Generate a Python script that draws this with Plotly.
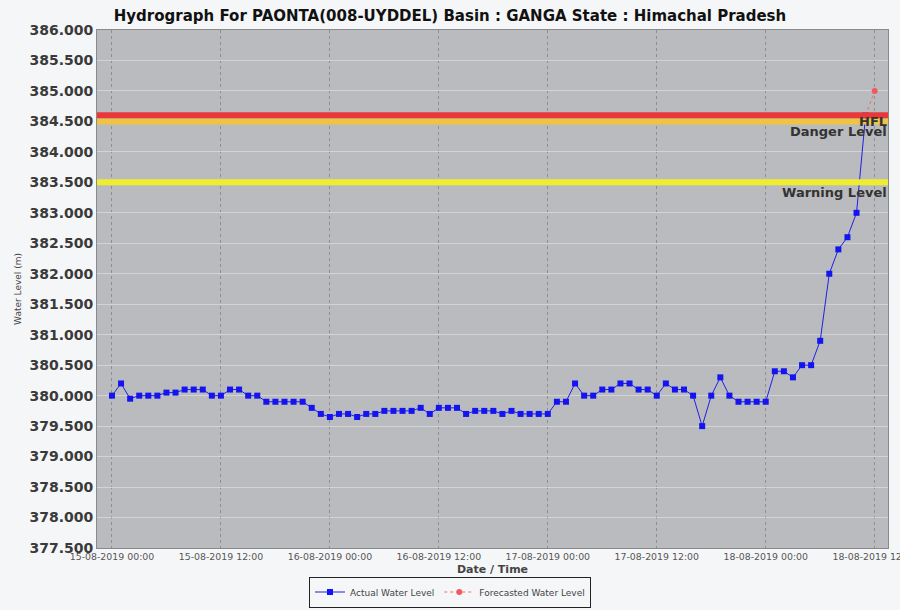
import plotly.graph_objects as go
import pandas as pd

# ---------------- data ----------------
start_time = "2019-08-15 00:00"
actual_level = [
    380.0, 380.2, 379.95, 380.0, 380.0, 380.0, 380.05, 380.05, 380.1, 380.1,
    380.1, 380.0, 380.0, 380.1, 380.1, 380.0, 380.0, 379.9, 379.9, 379.9,
    379.9, 379.9, 379.8, 379.7, 379.65, 379.7, 379.7, 379.65, 379.7, 379.7,
    379.75, 379.75, 379.75, 379.75, 379.8, 379.7, 379.8, 379.8, 379.8, 379.7,
    379.75, 379.75, 379.75, 379.7, 379.75, 379.7, 379.7, 379.7, 379.7, 379.9,
    379.9, 380.2, 380.0, 380.0, 380.1, 380.1, 380.2, 380.2, 380.1, 380.1,
    380.0, 380.2, 380.1, 380.1, 380.0, 379.5, 380.0, 380.3, 380.0, 379.9,
    379.9, 379.9, 379.9, 380.4, 380.4, 380.3, 380.5, 380.5, 380.9, 382.0,
    382.4, 382.6, 383.0, 384.6,
]
actual_time = pd.date_range(start_time, periods=len(actual_level), freq="h")

forecast_time = ["2019-08-18 11:00", "2019-08-18 12:00"]
forecast_level = [384.6, 385.0]

threshold_names = ["Warning Level", "Danger Level", "HFL"]
threshold_values = [383.5, 384.5, 384.6]
threshold_colors = ["#eeee2e", "#efc443", "#e8383b"]
threshold_label_shift = [-1, -1, 3]

x_range = ["2019-08-14 22:21", "2019-08-18 13:28"]
y_range = [377.5, 386.0]

title_text = "Hydrograph For PAONTA(008-UYDDEL) Basin : GANGA State : Himachal Pradesh"

# ---------------- figure ----------------
FONT = "DejaVu Sans"
fig = go.Figure()

fig.add_trace(go.Scatter(
    x=actual_time, y=actual_level, mode="lines+markers",
    name="Actual Water Level",
    line=dict(color="#1f1fe8", width=1),
    marker=dict(symbol="square", size=6, color="#1414f0"),
))
fig.add_trace(go.Scatter(
    x=forecast_time, y=forecast_level, mode="lines+markers",
    name="Forecasted Water Level",
    line=dict(color="#f06a6a", width=1, dash="dot"),
    marker=dict(symbol="circle", size=6, color="#f05a5a"),
))

for name, val, col, sh in zip(threshold_names, threshold_values, threshold_colors, threshold_label_shift):
    fig.add_shape(type="line", xref="paper", x0=0, x1=1, yref="y", y0=val, y1=val,
                  line=dict(color=col, width=6), layer="above")
    fig.add_annotation(x=1, xref="paper", xanchor="right", xshift=1,
                       y=val, yref="y", yanchor="top", yshift=sh,
                       text=f"<b>{name}</b>", showarrow=False,
                       font=dict(family=FONT, size=13, color="#333333"))

fig.update_layout(
    width=900, height=610,
    margin=dict(l=97, r=12, t=30, b=62, autoexpand=False),
    paper_bgcolor="#f5f6f8",
    plot_bgcolor="#babbbe",
    font=dict(family=FONT, color="#444444"),
    title=dict(text=f"<b>{title_text}</b>", x=0.5, xanchor="center",
               y=1 - 16 / 610, yanchor="middle",
               font=dict(family=FONT, size=15, color="#111111")),
    showlegend=True,
    legend=dict(orientation="h", xref="container", yref="container",
                x=0.5, xanchor="center", y=1 - 592 / 610, yanchor="middle",
                bgcolor="#f5f6f8", bordercolor="#222222", borderwidth=1,
                font=dict(family=FONT, size=9, color="#444444"),
                itemwidth=30, tracegroupgap=0),
)

fig.update_xaxes(
    type="date", range=x_range, automargin=False,
    dtick=12 * 3600 * 1000, tick0="2019-08-15 00:00",
    tickformat="%d-%m-%Y %H:%M", ticklabeloverflow="allow",
    tickfont=dict(family=FONT, size=9.4, color="#555555"),
    showgrid=True, gridcolor="#8e8e8e", griddash="dot", gridwidth=1,
    showline=True, linecolor="#8a8a8a", linewidth=1, mirror=True,
    ticks="", zeroline=False,
    title=dict(text="<b>Date / Time</b>", font=dict(family=FONT, size=11, color="#444444"),
               standoff=14),
)
fig.update_yaxes(
    range=y_range, dtick=0.5, tick0=377.5, tickformat=".3f", automargin=False,
    tickfont=dict(family=FONT, size=14, color="#3a3a3a", weight="bold"),
    showgrid=True, gridcolor="#d2d3d5", gridwidth=1,
    showline=True, linecolor="#8a8a8a", linewidth=1, mirror=True,
    ticks="", zeroline=False,
    title=dict(text="Water Level (m)", font=dict(family=FONT, size=9, color="#444444"),
               standoff=6),
)

fig.write_html("out.html", config={"displayModeBar": False},
               post_script="document.body.style.margin='0px';")
